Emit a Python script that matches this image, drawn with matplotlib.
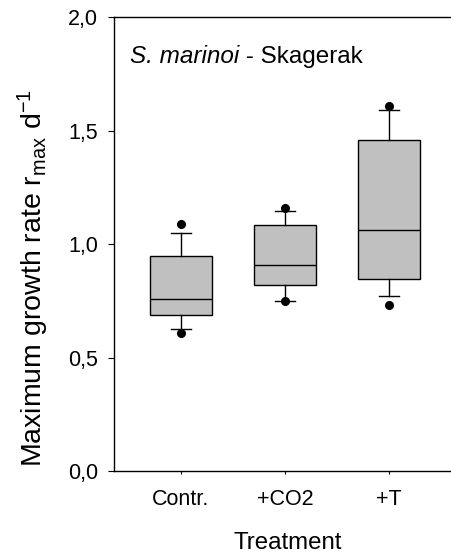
import matplotlib
matplotlib.use('Agg')
import matplotlib.pyplot as plt

plt.rcParams['font.family'] = ['Liberation Sans', 'DejaVu Sans']
plt.rcParams['mathtext.fontset'] = 'custom'
plt.rcParams['mathtext.rm'] = 'Liberation Sans'
plt.rcParams['mathtext.it'] = 'Liberation Sans:italic'

# values
labels = ['Contr.', '+CO2', '+T']
q1 = [0.690, 0.819, 0.849]
med = [0.760, 0.907, 1.061]
q3 = [0.948, 1.083, 1.460]
whislo = [0.626, 0.752, 0.774]
whishi = [1.051, 1.148, 1.591]
fliers = [[0.611, 1.089], [0.752, 1.158], [0.734, 1.608]]
yticks = [0.0, 0.5, 1.0, 1.5, 2.0]

stats = []
for i in range(len(labels)):
    stats.append({'label': labels[i], 'q1': q1[i], 'med': med[i], 'q3': q3[i],
                  'whislo': whislo[i], 'whishi': whishi[i], 'fliers': fliers[i]})

fig = plt.figure(figsize=(4.51, 5.55), dpi=100)
ax = fig.add_axes([0.2528, 0.1505, 0.7472, 0.8189])

ax.bxp(stats, positions=[1, 2, 3], widths=0.6, patch_artist=True,
       showcaps=True, capwidths=0.2,
       boxprops=dict(facecolor='#c0c0c0', edgecolor='black', linewidth=1.0),
       medianprops=dict(color='black', linewidth=1.0),
       whiskerprops=dict(color='black', linewidth=1.0),
       capprops=dict(color='black', linewidth=1.0),
       flierprops=dict(marker='o', markerfacecolor='black', markeredgecolor='black',
                       markersize=5.5, linestyle='none'))

ax.set_xlim(0.356, 3.596)
ax.set_ylim(0, 2.0)
ax.set_yticks(yticks)
ax.set_yticklabels([('%.1f' % v).replace('.', ',') for v in yticks])
ax.set_xticks([1, 2, 3])
ax.set_xticklabels(labels)

ax.spines['right'].set_visible(False)
for s in ['left', 'top', 'bottom']:
    ax.spines[s].set_linewidth(1.0)
ax.tick_params(axis='y', direction='out', length=4.2, width=0.8, labelsize=15.5, pad=7.5)
ax.tick_params(axis='x', direction='out', length=2.5, width=0.8, labelsize=15.5, pad=10)

ax.set_ylabel('Maximum growth rate r$_{\\mathrm{max}}$ d$^{\\mathrm{-1}}$', fontsize=20.5)
ax.yaxis.label.set_va('center')
ax.yaxis.set_label_coords(-0.24, 0.425)
ax.set_xlabel('Treatment', fontsize=17.3)
ax.xaxis.label.set_va('bottom')
ax.xaxis.set_label_coords(0.516, -0.181)

t = ax.text(0.047, 0.912, 'S. marinoi', transform=ax.transAxes, style='italic',
            fontsize=17.5, va='center', ha='left')
ax.annotate(' - Skagerak', xy=(1, 0.5), xycoords=t, fontsize=17.5, va='center', ha='left')

fig.savefig('out.png', dpi=100)
